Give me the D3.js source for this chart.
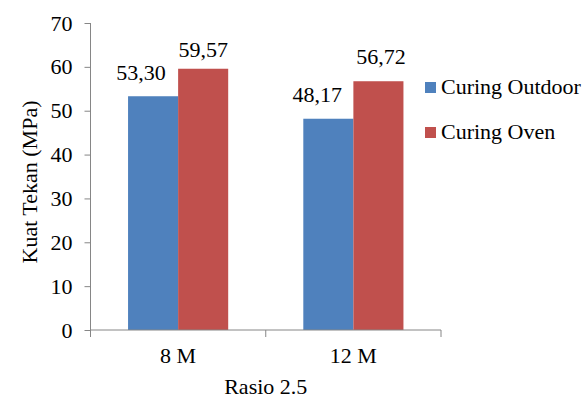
<!DOCTYPE html>
<html>
<head>
<meta charset="utf-8">
<script src="https://cdn.jsdelivr.net/npm/d3@7"></script>
<style>
  html, body { margin: 0; padding: 0; background: #fff; }
  svg { display: block; }
</style>
</head>
<body>
<svg id="chart" width="587" height="399"></svg>
<script>
// Compressive strength by molarity, grouped by curing method
const categories = ["8 M", "12 M"];
const seriesNames = ["Curing Outdoor", "Curing Oven"];
const outdoorValues = [53.30, 48.17];
const ovenValues = [59.57, 56.72];
const yTicks = [0, 10, 20, 30, 40, 50, 60, 70];
const seriesColors = ["#4F81BD", "#C0504D"];

const seriesValues = [outdoorValues, ovenValues];
const fmt = v => d3.format(".2f")(v).replace(".", ",");

const svg = d3.select("#chart");
const serif = "Liberation Serif, Times New Roman, serif";
const fontSize = 22;
const axisColor = "#868686";

const plot = { left: 90.5, right: 441, top: 23, bottom: 330 };

const x0 = d3.scaleBand()
  .domain(categories)
  .range([plot.left, plot.right])
  .paddingInner(0)
  .paddingOuter(0);

// Gap width 150%: two bars plus 0.75 bar width of space on each side
const x1 = d3.scaleBand()
  .domain(seriesNames)
  .range([0, x0.bandwidth()])
  .paddingInner(0)
  .paddingOuter(0.75);

const y = d3.scaleLinear().domain([0, 70]).range([plot.bottom, plot.top]);

// Bars
seriesNames.forEach((name, si) => {
  svg.append("g")
    .selectAll("rect")
    .data(categories.map((c, ci) => ({ c, v: seriesValues[si][ci] })))
    .join("rect")
    .attr("x", d => x0(d.c) + x1(name))
    .attr("y", d => y(d.v))
    .attr("width", x1.bandwidth())
    .attr("height", d => y(0) - y(d.v))
    .attr("fill", seriesColors[si]);
});

// Value labels, nudged from the bar tops
const labelNudge = [
  [[-12, -16], [0, -11.5]],
  [[-11, -16.5], [2.5, -17]]
];
seriesNames.forEach((name, si) => {
  categories.forEach((c, ci) => {
    const v = seriesValues[si][ci];
    const [dx, dy] = labelNudge[ci][si];
    svg.append("text")
      .attr("x", x0(c) + x1(name) + x1.bandwidth() / 2 + dx)
      .attr("y", y(v) + dy)
      .attr("text-anchor", "middle")
      .attr("font-family", serif)
      .attr("font-size", fontSize)
      .attr("fill", "#000")
      .text(fmt(v));
  });
});

// Y axis
const yAxis = d3.axisLeft(y).tickValues(yTicks).tickSize(6).tickPadding(12).tickFormat(d3.format("d"));
const gy = svg.append("g").attr("transform", `translate(${plot.left},0)`).call(yAxis);
gy.attr("font-family", serif);
gy.select(".domain").attr("stroke", axisColor).attr("d", `M0,${plot.top}V${plot.bottom + 7}`);
gy.selectAll(".tick line").attr("stroke", axisColor);
gy.selectAll(".tick text")
  .attr("font-family", serif)
  .attr("font-size", fontSize).attr("fill", "#000");

// X axis with ticks at category boundaries
const gx = svg.append("g").attr("transform", `translate(0,${plot.bottom})`);
gx.append("path")
  .attr("d", `M${plot.left},0H${plot.right}`)
  .attr("stroke", axisColor).attr("fill", "none");
const boundaries = categories.map(c => x0(c)).concat([x0(categories[categories.length - 1]) + x0.bandwidth()]);
gx.selectAll("line.b")
  .data(boundaries)
  .join("line")
  .attr("class", "b")
  .attr("x1", d => d).attr("x2", d => d)
  .attr("y1", 0).attr("y2", 7)
  .attr("stroke", axisColor);
gx.selectAll("text")
  .data(categories)
  .join("text")
  .attr("x", d => x0(d) + x0.bandwidth() / 2)
  .attr("y", 33)
  .attr("text-anchor", "middle")
  .attr("font-family", serif)
  .attr("font-size", fontSize)
  .text(d => d);

// Axis titles
svg.append("text")
  .attr("x", plot.left + (plot.right - plot.left) / 2)
  .attr("y", 394)
  .attr("text-anchor", "middle")
  .attr("font-family", serif)
  .attr("font-size", fontSize)
  .text("Rasio 2.5");

svg.append("text")
  .attr("transform", "translate(37,182) rotate(-90)")
  .attr("text-anchor", "middle")
  .attr("font-family", serif)
  .attr("font-size", fontSize)
  .text("Kuat Tekan (MPa)");

// Legend
const legend = svg.append("g");
seriesNames.forEach((name, i) => {
  const ly = 82 + i * 45;
  legend.append("rect")
    .attr("x", 425).attr("y", ly)
    .attr("width", 11).attr("height", 11)
    .attr("fill", seriesColors[i]);
  legend.append("text")
    .attr("x", 441).attr("y", ly + 12)
    .attr("font-family", serif)
    .attr("font-size", fontSize)
    .text(name);
});
</script>
</body>
</html>
